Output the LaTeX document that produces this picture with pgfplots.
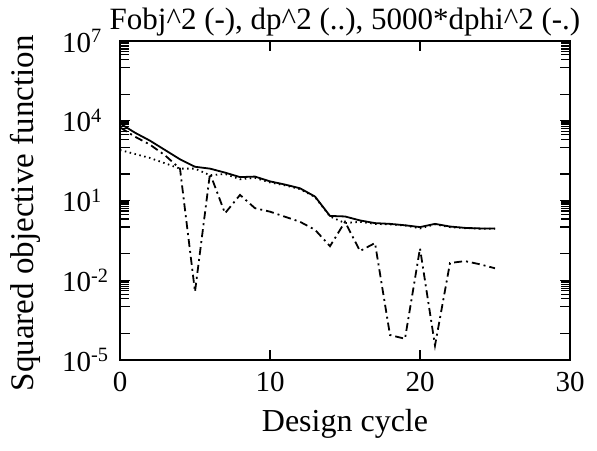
\documentclass[border=0pt]{standalone}
\usepackage{fontspec}
\setmainfont{Liberation Serif}
\usepackage{pgfplots}
\pgfplotsset{compat=1.18}
\begin{document}
\begin{tikzpicture}[x=1pt,y=1pt]
\path[use as bounding box] (0,0) rectangle (597,450);
\begin{axis}[
  at={(120pt,90pt)}, anchor=south west,
  scale only axis, width=450pt, height=319pt,
  xmin=0, xmax=30, ymin=1e-5, ymax=1e7,
  ymode=log,
  xtick={0,10,20,30}, xticklabels={0,10,20,30},
  ytick={1e-5,1e-4,1e-3,1e-2,1e-1,1,10,100,1e3,1e4,1e5,1e6,1e7},
  minor ytick={2e6,3e6,4e6,5e6,6e6,7e6,8e6,9e6,
               2e3,3e3,4e3,5e3,6e3,7e3,8e3,9e3,
               2,3,4,5,6,7,8,9,
               0.002,0.003,0.004,0.005,0.006,0.007,0.008,0.009},
  yticklabel={\pgfmathparse{int(mod(\ticknum,3))}\ifnum\pgfmathresult=0 10\textsuperscript{\the\numexpr\ticknum-5\relax}\fi},
  tick label style={font=\fontsize{29}{31}\selectfont},
  xticklabel style={yshift=-9pt},
  yticklabel style={anchor=west, inner sep=0pt, xshift=-58pt},
  major tick length=10pt, minor tick length=9pt,
  tick style={line width=1.2pt, black},
  axis line style={line width=1.8pt},
  tick align=inside,
  title={Fobj\textasciicircum2 (-), dp\textasciicircum2 (..), 5000*dphi\textasciicircum2 (-.)},
  title style={font=\fontsize{31}{33}\selectfont, at={(0.5,1)}, anchor=base, yshift=5pt},
  xlabel={Design cycle},
  ylabel={Squared objective function},
  xlabel style={font=\fontsize{32}{34}\selectfont, yshift=-10pt},
  ylabel style={font=\fontsize{33}{35}\selectfont, at={(axis description cs:-0.211,0.46)}, anchor=center, rotate=0},
]
\addplot[black, line width=1.8pt] coordinates {
(0,7943) (1,3548) (2,1778) (3,794) (4,355) (5,186) (6,158) (7,112) (8,75.9) (9,79.4)
(10,52.5) (11,39.8) (12,28.8) (13,14.1) (14,2.63) (15,2.51) (16,1.78) (17,1.41) (18,1.32) (19,1.17)
(20,1.0) (21,1.32) (22,1.05) (23,0.933) (24,0.891) (25,0.891)};
\addplot[black, line width=1.8pt, dash pattern=on 1.5pt off 3.5pt] coordinates {
(0,794) (1,562) (2,398) (3,251) (4,158) (5,158) (6,89.1) (7,100) (8,63.1) (9,70.8)
(10,47.9) (11,37.2) (12,26.9) (13,13.5) (14,2.51) (15,1.41) (16,1.58) (17,1.32) (18,1.26) (19,1.15)
(20,0.891) (21,1.26) (22,1.0) (23,0.912) (24,0.871) (25,0.871)};
\addplot[black, line width=1.8pt, dash pattern=on 8pt off 4pt on 2pt off 4pt] coordinates {
(0,5623) (1,2512) (2,1259) (3,501) (4,158) (5,0.00372) (6,105) (7,3.31) (8,16.2) (9,5.13)
(10,3.80) (11,2.45) (12,1.58) (13,0.794) (14,0.191) (15,1.58) (16,0.126) (17,0.251) (18,8.7e-5) (19,6.3e-5)
(20,0.158) (21,3.5e-5) (22,0.0447) (23,0.0525) (24,0.0398) (25,0.0282)};
\end{axis}
\end{tikzpicture}
\end{document}
